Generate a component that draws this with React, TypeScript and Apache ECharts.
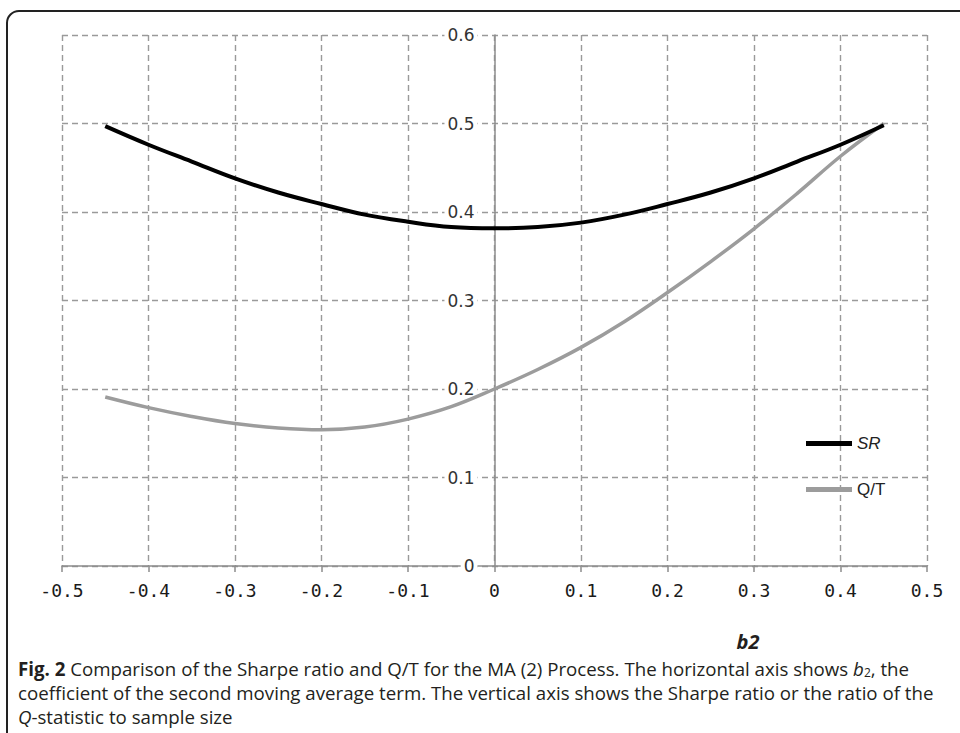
import React, { useEffect, useRef } from "react";
import * as echarts from "echarts";

const bValues = [-0.45, -0.4, -0.35, -0.3, -0.25, -0.2, -0.15, -0.1, -0.05, 0, 0.05, 0.1, 0.15, 0.2, 0.25, 0.3, 0.35, 0.4, 0.45];
const srValues = [0.497, 0.476, 0.457, 0.438, 0.422, 0.409, 0.397, 0.389, 0.383, 0.3815, 0.383, 0.388, 0.397, 0.409, 0.422, 0.438, 0.457, 0.476, 0.498];
const qtValues = [0.191, 0.179, 0.169, 0.161, 0.156, 0.154, 0.157, 0.166, 0.18, 0.2, 0.222, 0.247, 0.276, 0.309, 0.344, 0.381, 0.421, 0.463, 0.5];
const seriesNames = ["SR", "Q/T"];
const xAxisName = "b2";
const captionLines = [
  "{b|Fig. 2} Comparison of the Sharpe ratio and Q/T for the MA (2) Process. The horizontal axis shows {i|b}{sub|2}, the",
  "coefficient of the second moving average term. The vertical axis shows the Sharpe ratio or the ratio of the",
  "{i|Q}-statistic to sample size",
];

const fmt = (v: number) => (Math.abs(v) < 1e-9 ? "0" : v.toFixed(1));

export default function App() {
  const ref = useRef<HTMLDivElement>(null);
  useEffect(() => {
    if (!ref.current) return;
    const chart = echarts.init(ref.current, null, { renderer: "svg" });
    const gridColor = "#9a9a9a";
    const capFont = "'Open Sans', 'Noto Sans', sans-serif";
    const capSize = 18.7;
    const capRich = {
      b: { fontWeight: "bold", fontSize: capSize, fontFamily: capFont, fill: "#231f20" },
      i: { fontStyle: "italic", fontSize: capSize, fontFamily: capFont, fill: "#231f20" },
      sub: { fontSize: 12, fontFamily: capFont, fill: "#231f20", padding: [9, 0, 0, 0] },
    };
    chart.setOption({
      animation: false,
      backgroundColor: "#ffffff",
      grid: { left: 62, right: 33, top: 35, bottom: 167, containLabel: false },
      xAxis: {
        type: "value",
        min: -0.5,
        max: 0.5,
        interval: 0.1,
        axisLine: { show: true, onZero: true, lineStyle: { color: "#8c8c8c", width: 1.5 } },
        axisTick: { show: true, length: 6, lineStyle: { color: "#8c8c8c", width: 1.5 } },
        axisLabel: {
          formatter: fmt,
          margin: 15,
          fontFamily: "'DejaVu Sans Mono', monospace",
          fontSize: 18,
          color: "#1a1a1a",
        },
        splitLine: { show: true, lineStyle: { color: gridColor, width: 1.4, type: [6, 4] } },
      },
      yAxis: {
        type: "value",
        min: 0,
        max: 0.6,
        interval: 0.1,
        offset: -432.5,
        axisLine: { show: true, onZero: false, lineStyle: { color: "#8c8c8c", width: 1.5 } },
        axisTick: { show: false },
        axisLabel: {
          formatter: fmt,
          margin: 17,
          fontFamily: "'DejaVu Sans', sans-serif",
          fontSize: 17,
          color: "#333",
          backgroundColor: "#ffffff",
          padding: [0, 3, 0, 3],
        },
        splitLine: { show: true, lineStyle: { color: gridColor, width: 1.4, type: [6, 4] } },
      },
      legend: {
        show: true,
        orient: "vertical",
        left: 806,
        top: 435,
        padding: 0,
        itemWidth: 46,
        itemHeight: 5,
        itemGap: 29,
        icon: "rect",
        data: seriesNames,
        formatter: (name: string) => (name === "SR" ? "{it|SR}" : "{nm|Q/T}"),
        textStyle: {
          rich: {
            it: { fontStyle: "italic", fontSize: 17, fontFamily: "'Liberation Sans', Arial, sans-serif", color: "#222" },
            nm: { fontSize: 17, fontFamily: "'Liberation Sans', Arial, sans-serif", color: "#222" },
          },
        },
      },
      series: [
        {
          name: seriesNames[0],
          type: "line",
          smooth: 0.4,
          showSymbol: false,
          symbol: "none",
          color: "#000000",
          lineStyle: { color: "#000000", width: 4 },
          data: bValues.map((b, i) => [b, srValues[i]]),
          z: 3,
        },
        {
          name: seriesNames[1],
          type: "line",
          smooth: 0.4,
          showSymbol: false,
          symbol: "none",
          color: "#9c9c9c",
          lineStyle: { color: "#9c9c9c", width: 3.5 },
          data: bValues.map((b, i) => [b, qtValues[i]]),
          z: 2,
        },
      ],
      graphic: [
        {
          type: "rect",
          shape: { x: 7, y: 11, width: 1000, height: 800, r: 12 },
          style: { fill: "none", stroke: "#222", lineWidth: 2 },
          silent: true,
          z: 100,
        },
        {
          type: "text",
          x: 748,
          y: 641,
          style: {
            text: xAxisName,
            fontSize: 20,
            fontWeight: "bold",
            fontStyle: "italic",
            fontFamily: capFont,
            fill: "#231f20",
            align: "center",
            verticalAlign: "middle",
          },
        },
        ...captionLines.map((t, i) => ({
          type: "text",
          x: 18,
          y: 668 + i * 24,
          style: {
            text: t,
            rich: capRich,
            fontSize: capSize,
            fontFamily: capFont,
            fill: "#231f20",
            align: "left",
            verticalAlign: "middle",
          },
        })),
      ],
    });
    return () => chart.dispose();
  }, []);
  return (
    <div
      ref={ref}
      style={{ position: "fixed", left: 0, top: 0, width: 960, height: 733, background: "#fff" }}
    />
  );
}
